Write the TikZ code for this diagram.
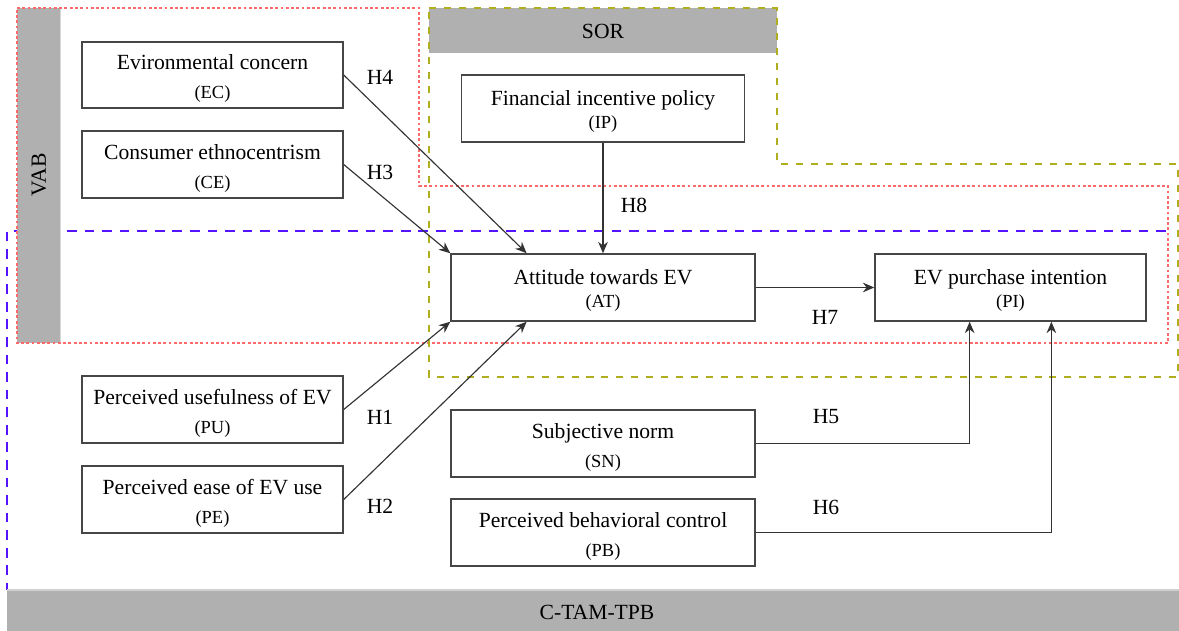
\documentclass[tikz,border=0pt]{standalone}
\usepackage{fontspec}
\setmainfont{Liberation Serif}
\usetikzlibrary{arrows.meta,calc}
\definecolor{redb}{RGB}{255,105,105}
\definecolor{oliveb}{RGB}{175,175,30}
\definecolor{blueb}{RGB}{85,20,255}
\definecolor{barg}{RGB}{176,176,176}
\definecolor{edgeg}{RGB}{70,70,70}
\newcommand\smtxt{\fontsize{10.5}{12}\selectfont}
\newcommand\tallstrut{\rule{0pt}{13pt}}
\newcommand\midstrut{\rule{0pt}{11.5pt}}
\begin{document}
\begin{tikzpicture}[x=0.02cm,y=-0.02cm,
  box/.style={draw=edgeg,line width=0.85pt,fill=white,rectangle,align=center,inner sep=0pt,
    font=\fontsize{12.3}{15.5}\selectfont},
  lab/.style={font=\fontsize{12.3}{14}\selectfont,inner sep=0pt},
  arr/.style={draw=black!80,line width=0.65pt,-{Stealth[length=6.5pt,width=5.5pt]}},
  redline/.style={draw=redb,line width=0.6pt,dash pattern=on 1.6pt off 1.4pt},
  oliveline/.style={draw=oliveb,line width=0.75pt,dash pattern=on 4pt off 4.5pt},
  blueline/.style={draw=blueb,line width=0.7pt,dash pattern=on 5.5pt off 4.5pt}]
\useasboundingbox (0,0) rectangle (1179,631);
% blue region (under bars)
\draw[blueline] (1166,231) -- (7,231) -- (7,590);
% bars
\fill[barg] (17.3,8.3) rectangle (60,342.7);
\draw[draw=barg!50!white,line width=0.5pt] (60.3,8.3) -- (60.3,342.7);
\node[lab,rotate=90] (vab) at (39,175) {VAB};
\fill[barg] (429.4,8.4) rectangle (776.6,53);
\node[lab] (sor) at (603,31) {SOR};
\fill[barg] (7,590) rectangle (1179,631);
\draw[draw=barg!60!white,line width=0.6pt] (7,590) -- (1179,590);
\node[lab] (ctam) at (597,612) {C-TAM-TPB};
% red and olive regions (over bars)
\draw[redline] (17,8) -- (419,8) -- (419,186) -- (1168,186) -- (1168,343) -- (17,343) -- cycle;
\draw[oliveline] (429,8) -- (777,8) -- (777,164) -- (1178,164) -- (1178,377) -- (429,377) -- cycle;
% nodes
\node[box,minimum width=5.22cm,minimum height=1.32cm] (EC) at (212.5,75) {\tallstrut Evironmental concern\\[1pt]{\smtxt (EC)}};
\node[box,minimum width=5.22cm,minimum height=1.34cm] (CE) at (212.5,164.5) {\tallstrut Consumer ethnocentrism\\[1pt]{\smtxt (CE)}};
\node[box,minimum width=5.66cm,minimum height=1.34cm] (IP) at (603,108.5) {\midstrut Financial incentive policy\\[-2.5pt]{\smtxt (IP)}};
\node[box,minimum width=6.08cm,minimum height=1.34cm] (AT) at (603,287.5) {\midstrut Attitude towards EV\\[-2.5pt]{\smtxt (AT)}};
\node[box,minimum width=5.42cm,minimum height=1.34cm] (PI) at (1010.5,287.5) {\midstrut EV purchase intention\\[-2.5pt]{\smtxt (PI)}};
\node[box,minimum width=5.22cm,minimum height=1.34cm] (PU) at (212.5,409.5) {\tallstrut Perceived usefulness of EV\\[1pt]{\smtxt (PU)}};
\node[box,minimum width=5.22cm,minimum height=1.34cm] (PE) at (212.5,499.5) {\tallstrut Perceived ease of EV use\\[1pt]{\smtxt (PE)}};
\node[box,minimum width=6.08cm,minimum height=1.34cm] (SN) at (603,443.5) {\tallstrut Subjective norm\\[1pt]{\smtxt (SN)}};
\node[box,minimum width=6.08cm,minimum height=1.34cm] (PB) at (603,532.5) {\tallstrut Perceived behavioral control\\[1pt]{\smtxt (PB)}};
% anchor points
\coordinate (ATt) at ($(AT.north west)!0.25!(AT.north east)$);
\coordinate (ATb) at ($(AT.south west)!0.25!(AT.south east)$);
\coordinate (PIa) at ($(PI.south west)!0.35!(PI.south east)$);
\coordinate (PIb) at ($(PI.south west)!0.65!(PI.south east)$);
% connectors
\draw[arr] (EC.east) -- (ATt);
\draw[arr] (CE.east) -- (AT.north west);
\draw[arr] (IP.south) -- (AT.north);
\draw[arr] (PU.east) -- (AT.south west);
\draw[arr] (PE.east) -- (ATb);
\draw[arr] (AT.east) -- (PI.west);
\draw[arr] (SN.east) -| (PIa);
\draw[arr] (PB.east) -| (PIb);
% labels
\node[lab] (h4) at (380,77) {H4};
\node[lab] (h3) at (380,172) {H3};
\node[lab] (h8) at (634,205) {H8};
\node[lab] (h7) at (825,317) {H7};
\node[lab] (h1) at (380,417) {H1};
\node[lab] (h2) at (380,506) {H2};
\node[lab] (h5) at (826,417) {H5};
\node[lab] (h6) at (826,507) {H6};
\end{tikzpicture}
\end{document}
